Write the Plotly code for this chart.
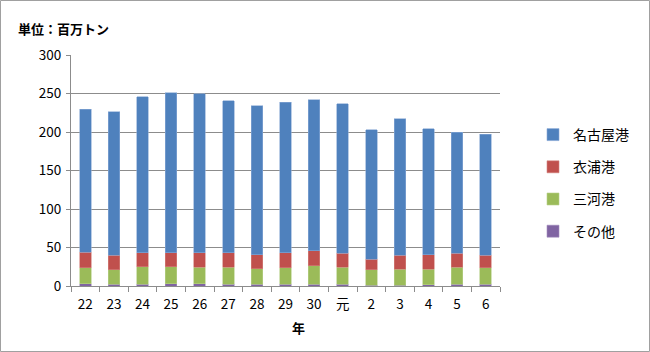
import plotly.graph_objects as go

years = ["22", "23", "24", "25", "26", "27", "28", "29", "30", "元", "2", "3", "4", "5", "6"]
nagoya = [185.5, 186, 202, 207.5, 207, 197.5, 193.5, 195, 196, 194, 168.5, 177, 163.5, 157.5, 157]
kinuura = [20.5, 19, 18.5, 18.5, 18.5, 18.5, 18, 19.5, 20, 18, 13.5, 18.5, 19, 18, 16]
mikawa = [20.5, 18.5, 22.5, 22, 21.5, 22, 20, 21.5, 23.5, 22, 20, 20.5, 20, 22.5, 22]
others = [3, 2.5, 2.5, 3, 3, 2.5, 2.5, 2.5, 2.5, 2.5, 1, 1, 1.5, 2, 2]

series = [
    ("その他", others, "#8064A2", "#A48FBF", 4),
    ("三河港", mikawa, "#9BBB59", "#B8D08A", 3),
    ("衣浦港", kinuura, "#C0504D", "#D4847F", 2),
    ("名古屋港", nagoya, "#4F81BD", "#8AAAD6", 1),
]

FONT = "Noto Sans CJK JP"
fig = go.Figure()
for name, vals, col, edge, rank in series:
    fig.add_trace(go.Bar(
        x=years, y=vals, name=name, legendgroup=name, legendrank=rank,
        marker=dict(color=col, line=dict(color=edge, width=0.6)),
    ))

L, R, T, B = 71, 150, 55, 66
W, H = 650, 352
pw, ph = W - L - R, H - T - B

fig.update_layout(
    width=W, height=H,
    margin=dict(l=L, r=R, t=T, b=B),
    barmode="stack", bargap=0.6,
    paper_bgcolor="white", plot_bgcolor="white",
    font=dict(family=FONT, size=13, color="#000000"),
    legend=dict(
        x=(533 - L) / pw, y=(286 - 119) / ph, xanchor="left", yanchor="top",
        traceorder="grouped", tracegroupgap=11,
        font=dict(family=FONT, size=14), itemwidth=30,
    ),
    xaxis=dict(
        type="category", showline=True, linecolor="#8c8c8c", linewidth=1,
        ticks="outside", tickson="boundaries", ticklen=5, tickcolor="#8c8c8c",
        showgrid=False, tickfont=dict(size=13.5), ticklabelstandoff=6,
    ),
    yaxis=dict(
        range=[0, 300], dtick=50, showline=True, linecolor="#8c8c8c", linewidth=1,
        ticks="outside", ticklen=4, tickcolor="#8c8c8c",
        showgrid=True, gridcolor="#8c8c8c", gridwidth=1, zeroline=False,
        tickfont=dict(size=13.5), ticklabelstandoff=2,
    ),
    shapes=[dict(
        type="rect", xref="paper", yref="paper",
        x0=(0.5 - L) / pw, x1=(W - 0.5 - L) / pw,
        y0=-(B - 0.5) / ph, y1=1 + (T - 0.5) / ph,
        line=dict(color="#a0a0a0", width=1), fillcolor="rgba(0,0,0,0)", layer="below",
    )],
    annotations=[
        dict(text="<b>単位：百万トン</b>", xref="paper", yref="paper",
             x=(16 - L) / pw, y=(H - B - 28) / ph, xanchor="left", yanchor="middle",
             showarrow=False, font=dict(family=FONT, size=13)),
        dict(text="<b>年</b>", xref="paper", yref="paper",
             x=(298 - L) / pw, y=(H - B - 327) / ph, xanchor="center", yanchor="middle",
             showarrow=False, font=dict(family=FONT, size=13)),
    ],
)

fig.write_html("out.html")
